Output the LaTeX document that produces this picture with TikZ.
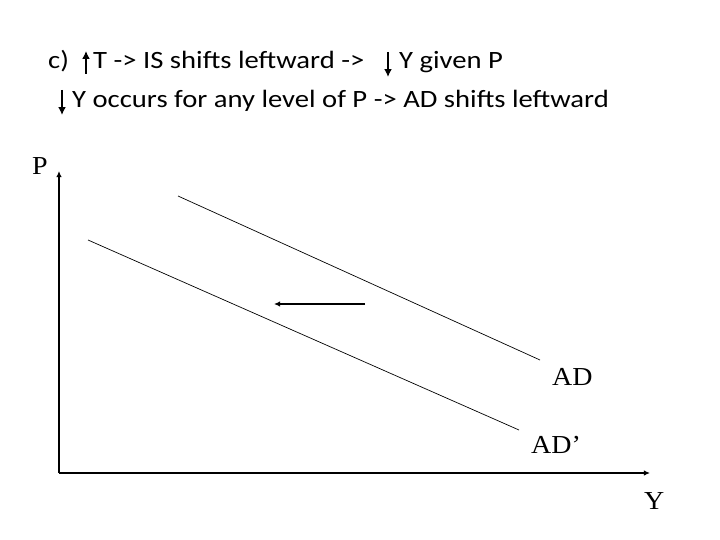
\documentclass[tikz,border=0pt]{standalone}
\usepackage{fontspec}
\setmainfont[FakeStretch=1.08]{Liberation Serif}
\newfontfamily\calib[FakeStretch=1.15]{Carlito}
\usetikzlibrary{arrows.meta,positioning}
\tikzset{
  note/.style={anchor=base west,inner sep=0pt,font=\calib\fontsize{25}{29}\selectfont},
  axlabel/.style={anchor=base west,inner sep=0pt,font=\fontsize{26}{30}\selectfont},
  axis/.style={-{Latex[length=2.2mm,width=2mm]},line width=1.5pt},
  curve/.style={line width=0.7pt},
  shiftarr/.style={-{Latex[length=2.2mm,width=2mm]},line width=1.6pt},
  txtarr/.style={-{Latex[length=2.8mm,width=2.8mm]},line width=2.1pt}
}
\begin{document}
\begin{tikzpicture}[x=1bp,y=-1bp]
  \useasboundingbox (0,0) rectangle (720,540);
  % heading, first line
  \node[note] (lbl) at (48,69) {c)};
  \node[note] (cause) at (93,69) {T -> IS shifts leftward ->};
  \node[note] (given) at (399,69) {Y given P};
  \coordinate (tlow) at (86,74);
  \coordinate (thigh) at (86,51);
  \draw[txtarr] (tlow) -- (thigh);
  \coordinate (yhigh) at (388,52);
  \coordinate (ylow) at (388,77);
  \draw[txtarr] (yhigh) -- (ylow);
  % heading, second line
  \node[note] (result) at (72,108) {Y occurs for any level of P -> AD shifts leftward};
  \coordinate (rhigh) at (62,90);
  \coordinate (rlow) at (62,115);
  \draw[txtarr] (rhigh) -- (rlow);
  % axes
  \coordinate (origin) at (59,473);
  \coordinate (ptop) at (59,171);
  \coordinate (yend) at (650,473);
  \draw[axis] (origin) -- (ptop);
  \draw[axis] (origin) -- (yend);
  \node[axlabel] (plab) at (32,175) {P};
  \node[axlabel] (ylab) at (644,509) {Y};
  % demand curves
  \coordinate (ad1) at (178,196);
  \coordinate (ad2) at (540,360);
  \coordinate (adp1) at (88,240);
  \coordinate (adp2) at (519,430);
  \draw[curve] (ad1) -- (ad2);
  \draw[curve] (adp1) -- (adp2);
  \node[axlabel] (adlab) at (552,385) {AD};
  \node[axlabel] (adplab) at (531,453) {AD’};
  % shift
  \coordinate (sfrom) at (365,304);
  \coordinate (sto) at (274,304);
  \draw[shiftarr] (sfrom) -- (sto);
\end{tikzpicture}
\end{document}
